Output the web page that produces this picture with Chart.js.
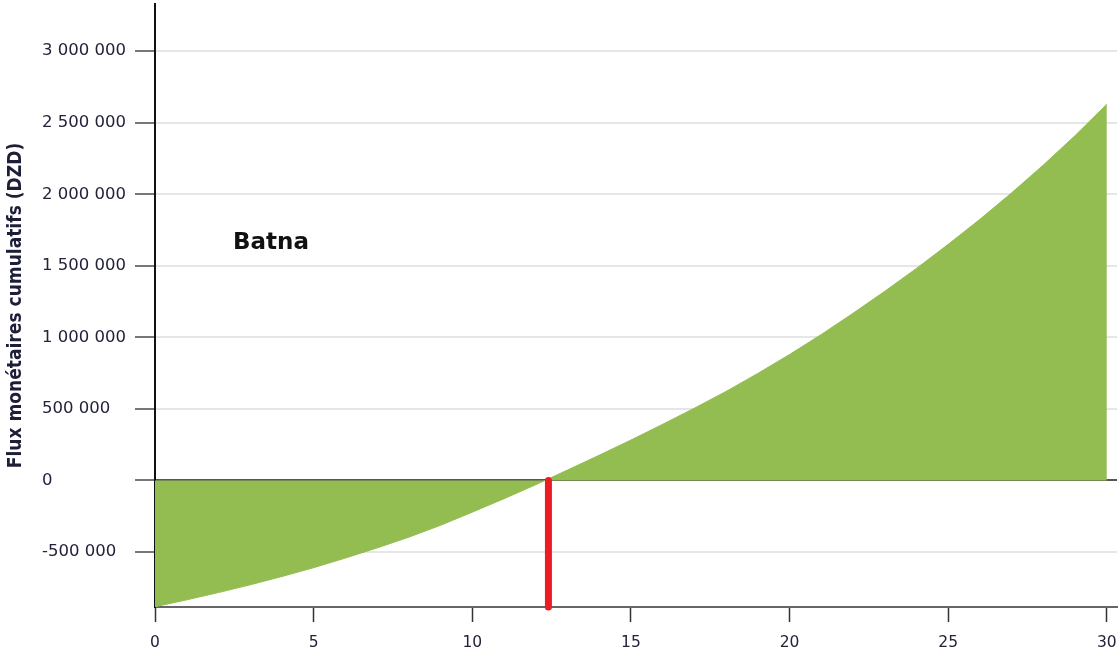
<!DOCTYPE html>
<html>
<head>
<meta charset="utf-8">
<script src="https://cdn.jsdelivr.net/npm/chart.js@4/dist/chart.umd.min.js"></script>
<style>
html,body{margin:0;padding:0;background:#fff;}
#wrap{position:relative;width:1119px;height:669px;}
</style>
</head>
<body>
<div id="wrap"><canvas id="c" width="1119" height="669"></canvas></div>
<script>
// Years (x) and cumulative cash flows (DZD)
const years = [0,1,2,3,4,5,6,7,8,9,10,11,12,13,14,15,16,17,18,19,20,21,22,23,24,25,26,27,28,29,30];
const cumulativeFlows = [-883000,-835000,-784000,-730000,-672000,-610000,-543000,-472000,-397000,-314000,-222000,-128000,-30000,72000,176000,282000,392000,505000,622000,748000,880000,1020000,1168000,1322000,1482000,1650000,1825000,2010000,2205000,2410000,2630000];
const paybackYear = [12.4];
const xTicks = [0,5,10,15,20,25,30];
const yTicks = [-500000,0,500000,1000000,1500000,2000000,2500000,3000000];
const siteLabel = 'Batna';
const yTitle = 'Flux monétaires cumulatifs (DZD)';

const Y_MIN = -885000, Y_MAX = 3330000;

function fmt(v){
  const s = String(Math.abs(v)).replace(/\B(?=(\d{3})+(?!\d))/g,' ');
  return (v<0?'-':'') + s;
}

const areaData = years.map((x,i)=>({x:x, y:cumulativeFlows[i]}));
const redData = [{x:paybackYear[0], y:0},{x:paybackYear[0], y:Y_MIN}];

const labelPlugin = {
  id:'siteLabel',
  afterDatasetsDraw(chart){
    const {ctx, scales} = chart;
    ctx.save();
    ctx.font = 'bold 23px "DejaVu Sans"';
    ctx.fillStyle = '#111';
    ctx.textAlign = 'left';
    ctx.textBaseline = 'middle';
    ctx.fillText(siteLabel, scales.x.left + 78, 243);
    ctx.restore();
  }
};

new Chart(document.getElementById('c'), {
  type:'line',
  data:{
    datasets:[
      {
        data: areaData,
        fill: 'origin',
        backgroundColor: '#93bd51',
        borderColor: '#93bd51',
        borderWidth: 1,
        pointRadius: 0,
        tension: 0,
        order: 2
      },
      {
        data: redData,
        fill: false,
        borderColor: '#ed1c24',
        borderWidth: 7,
        borderCapStyle: 'round',
        pointRadius: 0,
        clip: false,
        order: 1
      }
    ]
  },
  options:{
    responsive:false,
    animation:false,
    events:[],
    layout:{padding:{top:4,right:2,left:0,bottom:0}},
    plugins:{
      legend:{display:false},
      tooltip:{enabled:false},
      title:{
        display:true,
        position:'left',
        fullSize:false,
        text:yTitle,
        color:'#1e1e38',
        font:{family:'"DejaVu Sans Condensed", "DejaVu Sans"', size:19, weight:'bold', lineHeight:1.2},
        padding:{top:4.5, bottom:14.7}
      }
    },
    scales:{
      x:{
        type:'linear',
        min:0,
        max:30.32,
        afterBuildTicks(s){ s.ticks = xTicks.map(v=>({value:v})); },
        afterFit(s){ s.height = 62; s.paddingLeft = 0; s.paddingRight = 0; },
        ticks:{
          color:'#22223a',
          font:{family:'"DejaVu Sans"', size:15.5},
          padding:12,
          maxRotation:0,
          autoSkip:false
        },
        grid:{
          display:true,
          drawOnChartArea:false,
          drawTicks:true,
          tickLength:15,
          tickColor:'#333',
          tickWidth:1.5
        },
        border:{display:true,color:'#666',width:2}
      },
      y:{
        type:'linear',
        min:Y_MIN,
        max:Y_MAX,
        afterBuildTicks(s){ s.ticks = yTicks.map(v=>({value:v})); },
        afterFit(s){ s.width = 113; s.paddingTop = 0; s.paddingBottom = 0; },
        ticks:{
          color:'#22223a',
          font:{family:'"DejaVu Sans"', size:16.5},
          crossAlign:'far',
          padding:6,
          callback:(v)=>fmt(v)
        },
        grid:{
          color:(c)=> (c.tick && c.tick.value===0) ? '#555' : '#e6e6e6',
          lineWidth:2,
          tickColor:'#777',
          tickLength:20,
          tickWidth:2
        },
        border:{display:true,color:'#111',width:2}
      }
    }
  },
  plugins:[labelPlugin]
});
</script>
</body>
</html>
